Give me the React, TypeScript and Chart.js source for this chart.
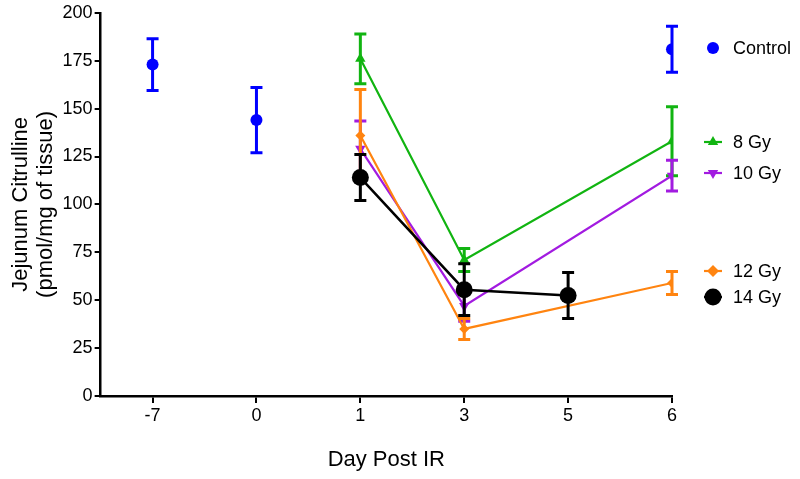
import React, { useEffect, useRef } from 'react';
import { Chart, registerables } from 'chart.js';

Chart.register(...registerables);

const dayLabels = ['-7', '0', '1', '3', '5', '6'];
const yTickValues = [0, 25, 50, 75, 100, 125, 150, 175, 200];

const controlMean = [173, 144, null, null, null, 181];
const controlErr = [13.5, 17, null, null, null, 12];
const gy8Mean = [null, null, 176, 71, null, 133];
const gy8Err = [null, null, 13, 6, null, 18];
const gy10Mean = [null, null, 129, 47, null, 115];
const gy10Err = [null, null, 14.5, 8, null, 8];
const gy12Mean = [null, null, 136, 35, null, 59];
const gy12Err = [null, null, 24, 5.5, null, 6];
const gy14Mean = [null, null, 114, 55.5, 52.5, null];
const gy14Err = [null, null, 12, 13.5, 12, null];

const FONT = "'Liberation Sans', Arial, Helvetica, sans-serif";

type SeriesDef = {
  label: string;
  mean: (number | null)[];
  err: (number | null)[];
  color: string;
  style: string;
  rotation: number;
  radius: number;
  showLine: boolean;
  lineWidth: number;
  order: number;
};

const series: SeriesDef[] = [
  { label: 'Control', mean: controlMean, err: controlErr, color: '#0000FF', style: 'circle', rotation: 0, radius: 6, showLine: false, lineWidth: 2, order: 5 },
  { label: '8 Gy', mean: gy8Mean, err: gy8Err, color: '#11B411', style: 'triangle', rotation: 0, radius: 6, showLine: true, lineWidth: 2.2, order: 4 },
  { label: '10 Gy', mean: gy10Mean, err: gy10Err, color: '#A21BE0', style: 'triangle', rotation: 180, radius: 6, showLine: true, lineWidth: 2.2, order: 3 },
  { label: '12 Gy', mean: gy12Mean, err: gy12Err, color: '#FF8410', style: 'rectRot', rotation: 0, radius: 5, showLine: true, lineWidth: 2.2, order: 2 },
  { label: '14 Gy', mean: gy14Mean, err: gy14Err, color: '#000000', style: 'circle', rotation: 0, radius: 8.5, showLine: true, lineWidth: 2.5, order: 1 },
];

// legend placement (pixels relative to canvas)
const legendRows = [
  { idx: 0, y: 48 },
  { idx: 1, y: 142 },
  { idx: 2, y: 173 },
  { idx: 3, y: 271 },
  { idx: 4, y: 297 },
];

function drawMarker(ctx: CanvasRenderingContext2D, style: string, rotation: number, r: number, x: number, y: number, color: string) {
  ctx.save();
  ctx.fillStyle = color;
  ctx.translate(x, y);
  ctx.rotate((rotation * Math.PI) / 180);
  ctx.beginPath();
  if (style === 'circle') {
    ctx.arc(0, 0, r, 0, Math.PI * 2);
  } else if (style === 'triangle') {
    const side = (3 * r) / Math.sqrt(3);
    const h = (side * Math.sqrt(3)) / 2;
    ctx.moveTo(0, -h * 2 / 3);
    ctx.lineTo(side / 2, h / 3);
    ctx.lineTo(-side / 2, h / 3);
    ctx.closePath();
  } else if (style === 'rectRot') {
    const d = r * 1.2;
    ctx.moveTo(0, -d);
    ctx.lineTo(d, 0);
    ctx.lineTo(0, d);
    ctx.lineTo(-d, 0);
    ctx.closePath();
  }
  ctx.fill();
  ctx.restore();
}

const errorBarPlugin = {
  id: 'errorBars',
  afterDatasetDraw(chart: any, args: any) {
    const s = series[args.index];
    if (!s) return;
    const ctx = chart.ctx;
    const yScale = chart.scales.y;
    const meta = args.meta;
    ctx.save();
    ctx.strokeStyle = s.color;
    ctx.lineWidth = 3;
    ctx.lineCap = 'butt';
    const pts = meta.data;
    const raw = chart.data.datasets[args.index].data;
    for (let k = 0; k < pts.length; k++) {
      const d = raw[k];
      const e = s.err[d.x];
      if (e == null || d.y == null) continue;
      const x = pts[k].x;
      const yt = yScale.getPixelForValue(d.y + e);
      const yb = yScale.getPixelForValue(d.y - e);
      ctx.beginPath();
      ctx.moveTo(x, yt);
      ctx.lineTo(x, yb);
      ctx.moveTo(x - 6, yt);
      ctx.lineTo(x + 6, yt);
      ctx.moveTo(x - 6, yb);
      ctx.lineTo(x + 6, yb);
      ctx.stroke();
    }
    ctx.restore();
  },
};

const legendPlugin = {
  id: 'sideLegend',
  afterDraw(chart: any) {
    const ctx = chart.ctx;
    ctx.save();
    ctx.font = `18px ${FONT}`;
    ctx.textBaseline = 'middle';
    ctx.textAlign = 'left';
    ctx.fillStyle = '#000';
    for (const row of legendRows) {
      const s = series[row.idx];
      const cx = 713;
      if (s.showLine) {
        ctx.strokeStyle = s.color;
        ctx.lineWidth = s.lineWidth;
        ctx.beginPath();
        ctx.moveTo(cx - 9, row.y);
        ctx.lineTo(cx + 9, row.y);
        ctx.stroke();
      }
      drawMarker(ctx, s.style, s.rotation, s.radius, cx, row.y, s.color);
      ctx.fillStyle = '#000';
      ctx.fillText(s.label, 733, row.y + 1);
    }
    ctx.restore();
  },
};

export default function App() {
  const ref = useRef<HTMLCanvasElement>(null);

  useEffect(() => {
    if (!ref.current) return;
    Chart.defaults.font.family = FONT;
    const datasets = series.map((s) => ({
      label: s.label,
      data: s.mean
        .map((v, i) => (v == null ? null : { x: i, y: v }))
        .filter((p) => p !== null) as { x: number; y: number }[],
      borderColor: s.color,
      backgroundColor: s.color,
      borderWidth: s.lineWidth,
      showLine: s.showLine,
      pointStyle: s.style,
      pointRotation: s.rotation,
      pointRadius: s.radius,
      pointBorderWidth: 0,
      pointHoverRadius: s.radius,
      tension: 0,
      order: s.order,
      spanGaps: true,
    }));

    const chart = new Chart(ref.current, {
      type: 'line',
      data: { datasets },
      plugins: [errorBarPlugin, legendPlugin],
      options: {
        responsive: false,
        animation: false,
        layout: { padding: { top: 8, right: 128, left: 8, bottom: 6 } },
        plugins: { legend: { display: false }, tooltip: { enabled: false } },
        scales: {
          x: {
            type: 'linear',
            min: -0.5,
            max: 5,
            afterBuildTicks: (scale: any) => {
              scale.ticks = dayLabels.map((_, i) => ({ value: i }));
            },
            ticks: {
              color: '#000',
              font: { size: 18 },
              padding: 2,
              callback: (v: any) => dayLabels[v] ?? '',
            },
            grid: { drawOnChartArea: false, color: '#000', lineWidth: 2, tickLength: 7 },
            border: { color: '#000', width: 2.5 },
            title: { display: true, text: 'Day Post IR', color: '#000', font: { size: 22 }, padding: { top: 18, bottom: 0 } },
          },
          y: {
            type: 'linear',
            min: 0,
            max: 200,
            afterBuildTicks: (scale: any) => {
              scale.ticks = yTickValues.map((v) => ({ value: v }));
            },
            ticks: { color: '#000', font: { size: 18 }, padding: 2 },
            grid: { drawOnChartArea: false, color: '#000', lineWidth: 2, tickLength: 6 },
            border: { color: '#000', width: 2.5 },
            title: {
              display: true,
              text: ['Jejunum Citrulline', '(pmol/mg of tissue)'],
              color: '#000',
              font: { size: 22, lineHeight: 1.15 },
              padding: { top: 0, bottom: 2 },
            },
          },
        },
      },
    });
    return () => chart.destroy();
  }, []);

  return (
    <div style={{ position: 'fixed', left: 0, top: 0, width: 800, height: 479, background: '#fff' }}>
      <canvas ref={ref} width={800} height={479} style={{ display: 'block' }} />
    </div>
  );
}
